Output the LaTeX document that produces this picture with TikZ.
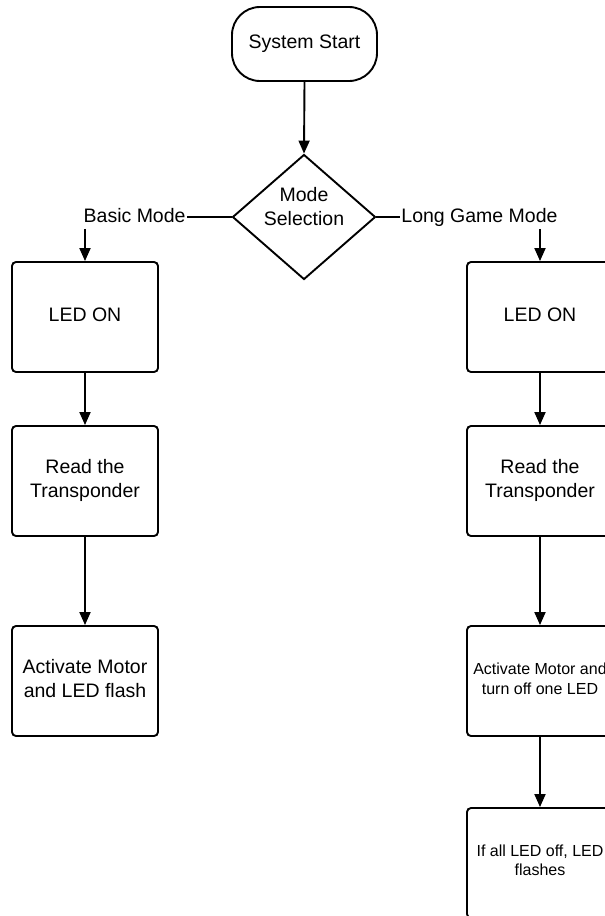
\documentclass[tikz,border=0pt]{standalone}
\usepackage{fontspec}
\setmainfont{Liberation Sans}
\usetikzlibrary{shapes.geometric,arrows.meta}
\begin{document}
\begin{tikzpicture}[x=1pt,y=-1pt,
  line width=1.9pt,
  arr/.style={-{Triangle[length=13pt,width=11pt]}},
  procbox/.style={draw, rounded corners=4pt, minimum width=146pt, minimum height=110pt,
    inner sep=2pt, align=center, font=\fontsize{19.5}{24}\selectfont, text depth=5pt},
  smallbox/.style={procbox, font=\fontsize{16}{20}\selectfont},
  startbox/.style={draw, rounded corners=28pt, minimum width=145pt, minimum height=74pt,
    inner sep=2pt, font=\fontsize{19.5}{24}\selectfont, text depth=4pt},
  decision/.style={draw, diamond, minimum width=143pt, minimum height=125pt, inner sep=0pt},
  lab/.style={fill=white, inner xsep=0.5pt, inner ysep=6pt, font=\fontsize{19.5}{24}\selectfont,
    text height=14pt, text depth=0pt},
  txt/.style={align=center, inner sep=0pt, font=\fontsize{19.5}{24}\selectfont}
]
\useasboundingbox (0,0) rectangle (605,916);
\clip (0,0) rectangle (605,916);
\fill[white] (0,0) rectangle (605,916);

\node[startbox] (start) at (304.5,44) {System Start};
\node[decision] (mode) at (304,217) {};
\node[txt] (modetxt) at (304,207) {Mode\\Selection};

\node[lab, anchor=east] (basic) at (187,215) {Basic Mode};
\node[lab, anchor=west] (long) at (400,215) {Long Game Mode};

\node[procbox] (b1) at (85,317) {LED ON};
\node[procbox] (b2) at (85,481) {Read the\\Transponder};
\node[procbox] (b3) at (85,681) {Activate Motor\\and LED flash};

\node[procbox] (r1) at (540,317) {LED ON};
\node[procbox] (r2) at (540,481) {Read the\\Transponder};
\node[smallbox] (r3) at (540,681) {Activate Motor and\\turn off one LED};
\node[smallbox, font=\fontsize{16}{19}\selectfont] (r4) at (540,863) {If all LED off, LED\\flashes};

\draw[arr] (start.south) -- (mode.north);
\draw (mode.west) -- (mode.west -| basic.east);
\draw (mode.east) -- (mode.east -| long.west);
\draw[arr] (b1.north |- basic.south) -- (b1.north);
\draw[arr] (r1.north |- long.south) -- (r1.north);

\draw[arr] (b1.south) -- (b2.north);
\draw[arr] (b2.south) -- (b3.north);
\draw[arr] (r1.south) -- (r2.north);
\draw[arr] (r2.south) -- (r3.north);
\draw[arr] (r3.south) -- (r4.north);
\end{tikzpicture}
\end{document}
